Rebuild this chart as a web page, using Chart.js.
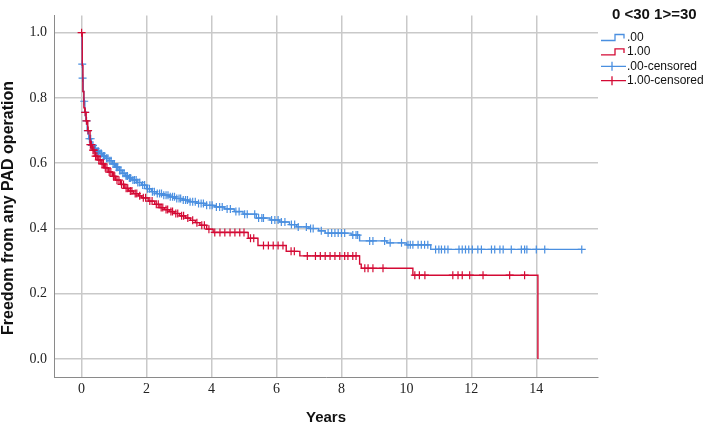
<!DOCTYPE html>
<html>
<head>
<meta charset="utf-8">
<script src="https://cdn.jsdelivr.net/npm/chart.js@4.4.0/dist/chart.umd.min.js"></script>
<style>
  html, body { margin: 0; padding: 0; background: #fff; }
  #wrap { width: 709px; height: 425px; }
</style>
</head>
<body>
<div id="wrap"><canvas id="kmChart" width="709" height="425"></canvas></div>
<script>
// Kaplan-Meier curves: event times (years) and survival after each event
const blueTimes = [0, 0.01, 0.02, 0.03, 0.05, 0.07, 0.1, 0.13, 0.17, 0.22, 0.3, 0.38, 0.46, 0.55, 0.65, 0.75, 0.85, 0.95, 1.05, 1.15, 1.25, 1.35, 1.45, 1.55, 1.7, 1.85, 2.0, 2.15, 2.3, 2.5, 2.7, 2.9, 3.1, 3.3, 3.55, 3.8, 4.1, 4.4, 4.7, 4.97, 5.38, 5.8, 6.1, 6.4, 6.62, 7.0, 7.3, 7.5, 8.3, 8.56, 9.4, 10.0, 10.75, 15.4];
const blueSurv = [1.0, 0.95, 0.904, 0.861, 0.82, 0.79, 0.756, 0.73, 0.70, 0.675, 0.655, 0.645, 0.637, 0.63, 0.622, 0.615, 0.608, 0.598, 0.588, 0.578, 0.569, 0.561, 0.555, 0.549, 0.541, 0.533, 0.522, 0.513, 0.507, 0.502, 0.497, 0.492, 0.487, 0.482, 0.477, 0.471, 0.466, 0.46, 0.452, 0.444, 0.432, 0.426, 0.42, 0.412, 0.405, 0.40, 0.393, 0.386, 0.38, 0.362, 0.356, 0.35, 0.336, 0.336];

const redTimes = [0, 0.02, 0.04, 0.07, 0.1, 0.14, 0.19, 0.26, 0.33, 0.41, 0.5, 0.6, 0.7, 0.82, 0.95, 1.05, 1.2, 1.33, 1.45, 1.6, 1.75, 1.85, 2.05, 2.25, 2.41, 2.55, 2.7, 2.85, 3.02, 3.2, 3.35, 3.5, 3.64, 3.85, 4.05, 5.13, 5.43, 6.3, 6.72, 8.56, 8.61, 10.2, 14.05];
const redSurv = [1.0, 0.90, 0.82, 0.77, 0.756, 0.73, 0.70, 0.657, 0.64, 0.622, 0.61, 0.598, 0.586, 0.573, 0.56, 0.548, 0.535, 0.523, 0.515, 0.507, 0.50, 0.494, 0.484, 0.474, 0.464, 0.458, 0.452, 0.446, 0.439, 0.432, 0.425, 0.418, 0.41, 0.398, 0.388, 0.37, 0.348, 0.33, 0.316, 0.291, 0.278, 0.257, 0];

// censored cases: [years, survival]
const blueCensored = [
  [0.02,0.904],[0.03,0.861],[0.08,0.79],[0.11,0.756],[0.15,0.73],[0.19,0.70],[0.24,0.675],[0.28,0.675],
  [0.32,0.655],[0.35,0.655],[0.4,0.645],[0.43,0.645],[0.48,0.637],[0.52,0.637],[0.57,0.63],[0.61,0.63],
  [0.67,0.622],[0.71,0.622],[0.77,0.615],[0.81,0.615],[0.87,0.608],[0.91,0.608],[0.97,0.598],[1.01,0.598],
  [1.07,0.588],[1.11,0.588],[1.17,0.578],[1.21,0.578],[1.27,0.569],[1.31,0.569],[1.37,0.561],[1.41,0.561],
  [1.47,0.555],[1.51,0.555],[1.58,0.549],[1.63,0.549],[1.68,0.549],[1.73,0.541],[1.79,0.541],[1.88,0.533],
  [1.94,0.533],[2.03,0.522],[2.09,0.522],[2.18,0.513],[2.24,0.513],[2.33,0.507],[2.4,0.507],[2.46,0.507],
  [2.53,0.502],[2.6,0.502],[2.66,0.502],[2.73,0.497],[2.8,0.497],[2.86,0.497],[2.93,0.492],[3.0,0.492],
  [3.05,0.492],[3.13,0.487],[3.2,0.487],[3.26,0.487],[3.34,0.482],[3.42,0.482],[3.5,0.482],[3.6,0.477],
  [3.68,0.477],[3.75,0.477],[3.85,0.471],[3.95,0.471],[4.02,0.471],[4.15,0.466],[4.25,0.466],[4.33,0.466],
  [4.48,0.46],[4.58,0.46],[4.75,0.452],[4.85,0.452],[5.02,0.444],[5.1,0.444],[5.33,0.444],[5.45,0.432],
  [5.55,0.432],[5.6,0.432],[5.85,0.426],[5.95,0.426],[6.05,0.426],[6.15,0.42],[6.26,0.42],[6.46,0.412],
  [6.56,0.412],[6.67,0.405],[6.92,0.405],[7.05,0.40],[7.13,0.40],[7.38,0.393],[7.59,0.386],[7.7,0.386],
  [7.8,0.386],[7.9,0.386],[8.0,0.386],[8.1,0.386],[8.35,0.38],[8.45,0.38],[8.5,0.38],[8.87,0.362],
  [8.97,0.362],[9.33,0.362],[9.5,0.356],[9.85,0.356],[10.05,0.35],[10.12,0.35],[10.2,0.35],[10.36,0.35],
  [10.46,0.35],[10.56,0.35],[10.66,0.35],[10.9,0.336],[11.0,0.336],[11.08,0.336],[11.18,0.336],[11.28,0.336],
  [11.62,0.336],[11.72,0.336],[11.82,0.336],[11.92,0.336],[12.03,0.336],[12.2,0.336],[12.31,0.336],[12.62,0.336],
  [12.72,0.336],[12.88,0.336],[12.98,0.336],[13.23,0.336],[13.54,0.336],[13.64,0.336],[13.71,0.336],[14.0,0.336],
  [14.26,0.336],[15.4,0.336]
];
const redCensored = [
  [0,1.0],[0.11,0.756],[0.15,0.73],[0.2,0.70],[0.27,0.657],[0.3,0.657],[0.35,0.64],[0.38,0.64],
  [0.43,0.622],[0.47,0.622],[0.53,0.61],[0.57,0.61],[0.63,0.598],[0.67,0.598],[0.73,0.586],[0.78,0.586],
  [0.85,0.573],[0.9,0.573],[0.98,0.56],[1.02,0.56],[1.09,0.548],[1.15,0.548],[1.23,0.535],[1.29,0.535],
  [1.37,0.523],[1.42,0.523],[1.5,0.515],[1.55,0.515],[1.65,0.507],[1.7,0.507],[1.79,0.50],[1.9,0.494],
  [1.97,0.494],[2.1,0.484],[2.17,0.484],[2.3,0.474],[2.36,0.474],[2.45,0.464],[2.5,0.464],[2.6,0.458],
  [2.65,0.458],[2.75,0.452],[2.8,0.452],[2.9,0.446],[2.96,0.446],[3.08,0.439],[3.14,0.439],[3.27,0.432],
  [3.42,0.425],[3.55,0.418],[3.7,0.41],[3.78,0.41],[3.92,0.398],[4.1,0.388],[4.26,0.388],[4.41,0.388],
  [4.57,0.388],[4.72,0.388],[4.87,0.388],[5.0,0.388],[5.2,0.37],[5.3,0.37],[5.6,0.348],[5.75,0.348],
  [5.9,0.348],[6.05,0.348],[6.2,0.348],[6.45,0.33],[6.55,0.33],[6.95,0.316],[7.2,0.316],[7.35,0.316],
  [7.5,0.316],[7.65,0.316],[7.8,0.316],[7.95,0.316],[8.1,0.316],[8.2,0.316],[8.35,0.316],[8.45,0.316],
  [8.72,0.278],[8.82,0.278],[8.97,0.278],[9.28,0.278],[10.26,0.257],[10.4,0.257],[10.57,0.257],[11.43,0.257],
  [11.59,0.257],[11.72,0.257],[11.95,0.257],[12.36,0.257],[13.18,0.257],[13.64,0.257]
];

const xTicks = [0, 2, 4, 6, 8, 10, 12, 14];
const yTicks = [0, 0.2, 0.4, 0.6, 0.8, 1.0];
const legendTitle = "0 <30 1>=30";
const legendLabels = [".00", "1.00", ".00-censored", "1.00-censored"];
const xTitle = "Years";
const yTitle = "Freedom from any PAD operation";

const BLUE = "#4a8fe0";
const RED = "#d40a34";
const GRID = "#c9c9c9";

function toPoints(times, surv) {
  return times.map((t, i) => ({ x: t, y: surv[i] }));
}

function pairsToPoints(pairs) {
  return pairs.map(p => ({ x: p[0], y: p[1] }));
}

// axis titles and the SPSS-style legend
const kmText = {
  id: "kmText",
  afterDraw(chart) {
    const ctx = chart.ctx;
    const area = chart.chartArea;
    ctx.save();
    ctx.fillStyle = "#111";
    ctx.textAlign = "center";
    ctx.textBaseline = "middle";
    ctx.font = 'bold 15px "Liberation Sans", Arial, sans-serif';
    ctx.fillText(xTitle, (area.left + area.right) / 2, 418);

    ctx.save();
    ctx.font = 'bold 16px "Liberation Sans", Arial, sans-serif';
    ctx.translate(9, 208);
    ctx.rotate(-Math.PI / 2);
    ctx.fillText(yTitle, 0, 0);
    ctx.restore();

    ctx.textAlign = "left";
    ctx.fillText(legendTitle, 612, 15);

    ctx.font = '12px "Liberation Sans", Arial, sans-serif';
    const colors = [BLUE, RED, BLUE, RED];
    legendLabels.forEach((label, i) => {
      const y = 37.5 + i * 14.4;
      ctx.strokeStyle = colors[i];
      ctx.lineWidth = 1.3;
      ctx.beginPath();
      if (i < 2) {
        ctx.moveTo(601, y + 3);
        ctx.lineTo(615, y + 3);
        ctx.lineTo(615, y - 3);
        ctx.lineTo(624, y - 3);
        ctx.lineTo(624, y + 1);
      } else {
        ctx.moveTo(601, y);
        ctx.lineTo(626, y);
        ctx.moveTo(612, y - 4.5);
        ctx.lineTo(612, y + 4.5);
      }
      ctx.stroke();
      ctx.fillStyle = "#111";
      ctx.fillText(label, 627, y);
    });
    ctx.restore();
  }
};

const ctx = document.getElementById("kmChart").getContext("2d");

window.kmChart = new Chart(ctx, {
  type: "line",
  data: {
    datasets: [
      {
        label: "1.00-censored",
        data: pairsToPoints(redCensored),
        showLine: false,
        pointStyle: "cross",
        pointRadius: 4,
        pointBorderWidth: 1.2,
        borderColor: RED,
        backgroundColor: RED,
        order: 0
      },
      {
        label: "1.00",
        data: toPoints(redTimes, redSurv),
        stepped: "before",
        borderColor: RED,
        borderWidth: 1.4,
        pointRadius: 0,
        fill: false,
        order: 1
      },
      {
        label: ".00-censored",
        data: pairsToPoints(blueCensored),
        showLine: false,
        pointStyle: "cross",
        pointRadius: 4,
        pointBorderWidth: 1.2,
        borderColor: BLUE,
        backgroundColor: BLUE,
        order: 2
      },
      {
        label: ".00",
        data: toPoints(blueTimes, blueSurv),
        stepped: "before",
        borderColor: BLUE,
        borderWidth: 1.4,
        pointRadius: 0,
        fill: false,
        order: 3
      }
    ]
  },
  options: {
    responsive: false,
    animation: false,
    events: [],
    layout: { padding: { left: 0, top: 3, right: 111, bottom: 0 } },
    plugins: {
      legend: { display: false },
      tooltip: { enabled: false }
    },
    scales: {
      x: {
        type: "linear",
        min: -0.85,
        max: 15.9,
        afterBuildTicks: scale => {
          scale.ticks = xTicks.map(v => ({ value: v }));
        },
        afterFit: scale => {
          scale.height = 48;
        },
        ticks: {
          padding: 4,
          color: "#222",
          font: { family: '"Liberation Serif", "Times New Roman", serif', size: 14 },
          callback: v => String(v)
        },
        grid: { color: GRID, lineWidth: 1.5, drawTicks: false },
        border: { display: true, color: "#8a8a8a", width: 1 }
      },
      y: {
        type: "linear",
        min: -0.055,
        max: 1.053,
        afterBuildTicks: scale => {
          scale.ticks = yTicks.map(v => ({ value: v }));
        },
        afterFit: scale => {
          scale.width = 54;
        },
        ticks: {
          padding: 7,
          color: "#222",
          font: { family: '"Liberation Serif", "Times New Roman", serif', size: 14 },
          callback: v => v.toFixed(1)
        },
        grid: { color: GRID, lineWidth: 1.5, drawTicks: false },
        border: { display: true, color: "#8a8a8a", width: 1 }
      }
    }
  },
  plugins: [kmText]
});
</script>
</body>
</html>
